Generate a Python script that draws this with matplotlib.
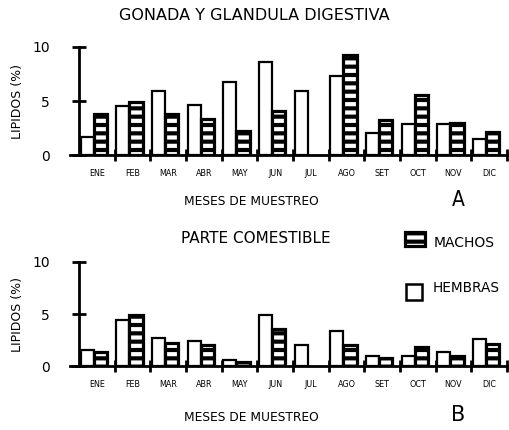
import numpy as np
import matplotlib.pyplot as plt
from matplotlib.patches import Rectangle

# --- datos ---
meses = ['ENE', 'FEB', 'MAR', 'ABR', 'MAY', 'JUN', 'JUL', 'AGO', 'SET', 'OCT', 'NOV', 'DIC']

# A: gonada y glandula digestiva
gon_hembras = [1.7, 4.5, 5.95, 4.6, 6.8, 8.6, 5.95, 7.3, 2.05, 2.9, 2.9, 1.5]
gon_machos = [3.8, 4.9, 3.8, 3.3, 2.25, 4.05, 0.0, 9.25, 3.2, 5.6, 2.95, 2.15]

# B: parte comestible
com_hembras = [1.5, 4.4, 2.7, 2.45, 0.6, 4.95, 2.05, 3.4, 0.95, 0.95, 1.35, 2.6]
com_machos = [1.3, 4.95, 2.25, 2.0, 0.4, 3.6, 0.0, 2.05, 0.75, 1.8, 0.95, 2.15]

plt.rcParams['font.family'] = ['DejaVu Sans']
plt.rcParams['hatch.linewidth'] = 3.0
plt.rcParams['hatch.color'] = 'white'

fig = plt.figure(figsize=(5.09, 4.30), dpi=100)
x = np.arange(len(meses))
w = 0.37


def panel(rect, hembras, machos):
    ax = fig.add_axes(rect)
    ax.bar(x + 0.23, hembras, w, facecolor='white', edgecolor='black', linewidth=1.6, zorder=3)
    # machos: fondo negro con rayas blancas
    mach = np.array(machos)
    m = mach > 0
    ax.bar(x[m] + 0.60, mach[m], w, facecolor='black', edgecolor='white', hatch='--',
           linewidth=0, zorder=3)
    ax.bar(x[m] + 0.60, mach[m], w, facecolor='none', edgecolor='black', linewidth=2.3, zorder=4)

    ax.set_xlim(-0.25, 12)
    ax.set_ylim(0, 10)
    for s in ['top', 'right']:
        ax.spines[s].set_visible(False)
    ax.spines['left'].set_position(('data', 0))
    ax.spines['left'].set_bounds(0, 10)
    ax.spines['left'].set_linewidth(2)
    ax.spines['bottom'].set_linewidth(2)
    ax.set_yticks([0, 5, 10])
    ax.set_yticklabels(['0', '5', '10'], fontsize=10)
    ax.tick_params(axis='y', direction='inout', length=10, width=2, pad=16)
    ax.set_xticks(np.arange(1, 13))
    ax.set_xticklabels([])
    ax.tick_params(axis='x', which='major', direction='inout', length=9, width=2)
    ax.set_xticks(x + 0.5, minor=True)
    ax.set_xticklabels(meses, minor=True, fontsize=5.8)
    ax.tick_params(axis='x', which='minor', length=0, pad=10)
    ax.set_ylabel('LIPIDOS (%)', fontsize=9, labelpad=6)
    return ax


ax1 = panel([0.1375, 0.6395, 0.8585, 0.2512], gon_hembras, gon_machos)
ax2 = panel([0.1375, 0.1488, 0.8585, 0.2419], com_hembras, com_machos)

fig.text(0.50, 0.963, 'GONADA Y GLANDULA DIGESTIVA', ha='center', va='center', fontsize=11.5)
fig.text(0.493, 0.532, 'MESES DE MUESTREO', ha='center', va='center', fontsize=8.8)
fig.text(0.90, 0.535, 'A', ha='center', va='center', fontsize=15, fontstretch='condensed')

fig.text(0.503, 0.446, 'PARTE COMESTIBLE', ha='center', va='center', fontsize=11)
fig.text(0.493, 0.030, 'MESES DE MUESTREO', ha='center', va='center', fontsize=8.8)
fig.text(0.90, 0.035, 'B', ha='center', va='center', fontsize=15)

# leyenda
fig.patches.append(Rectangle((0.795, 0.428), 0.040, 0.032, transform=fig.transFigure,
                             facecolor='black', edgecolor='white', hatch='--', linewidth=0))
fig.patches.append(Rectangle((0.795, 0.428), 0.040, 0.032, transform=fig.transFigure,
                             facecolor='none', edgecolor='black', linewidth=2.3))
fig.text(0.852, 0.434, 'MACHOS', ha='left', va='center', fontsize=10)
fig.patches.append(Rectangle((0.797, 0.302), 0.032, 0.038, transform=fig.transFigure,
                             facecolor='white', edgecolor='black', linewidth=1.8))
fig.text(0.850, 0.330, 'HEMBRAS', ha='left', va='center', fontsize=9.8)

fig.savefig('out.png', dpi=100)
